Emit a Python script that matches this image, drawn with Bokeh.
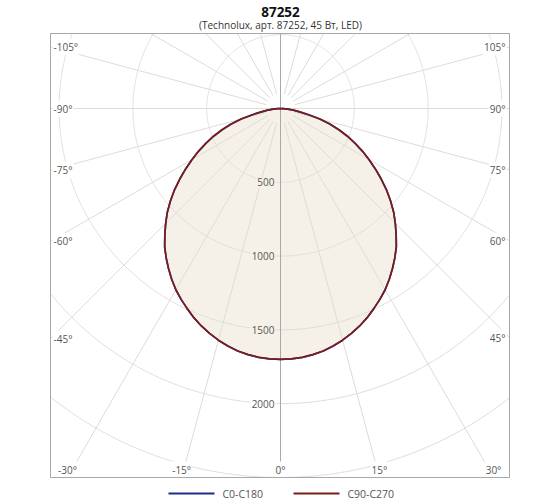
import numpy as np
from bokeh.plotting import figure
from bokeh.models import Range1d
from bokeh.core.properties import value
from bokeh.embed import file_html
from bokeh.resources import INLINE

# ---------------- data ----------------
TITLE = "87252"
SUBTITLE = "(Technolux, арт. 87252, 45 Вт, LED)"
SERIES = ["C0-C180", "C90-C270"]
ANGLES = [0, 2.5, 5, 7.5, 10, 12.5, 15, 17.5, 20, 22.5, 25, 27.5, 30, 32.5, 35, 37.5, 40, 42.5,
          45, 47.5, 50, 52.5, 55, 57.5, 60, 62.5, 65, 67.5, 70, 72.5, 75, 77.5, 80, 82.5, 85, 87.5, 90]
C0_C180 = [1700, 1698, 1693, 1682, 1668, 1648, 1625, 1598, 1568, 1534, 1496, 1458, 1418, 1372, 1323,
           1273, 1221, 1160, 1100, 1040, 973, 905, 833, 762, 692, 625, 558, 491, 421, 350, 276, 195,
           132, 88, 50, 20, 0]
C90_C270 = [1700, 1698, 1693, 1682, 1668, 1648, 1625, 1598, 1568, 1534, 1496, 1458, 1418, 1372, 1323,
            1273, 1221, 1160, 1100, 1040, 973, 905, 833, 762, 692, 625, 558, 491, 421, 350, 276, 195,
            132, 88, 50, 20, 0]
RADIAL_TICKS = [500, 1000, 1500, 2000]
GRID_RADII = [500, 1000, 1500, 2000, 2500, 3000]
RAY_STEP = 15
ANGLE_TICKS = [-105, -90, -75, -60, -45, -30, -15, 0, 15, 30, 45, 60, 75, 90, 105]

# ---------------- layout ----------------
S = 0.1476            # px per cd
W, H = 560, 504
CX, CY = 280, 108     # pole position inside the canvas (px from left / top)
FONT = value("Open Sans")
FILL = "#F5F1E8"
GRID = "#DCDCDC"
TXT = "#555555"
COLORS = ["#1F2A8A", "#7A1C1C"]


def P(xp, yp):
    """picture pixel -> data coordinates"""
    return (xp - CX) / S, (CY - yp) / S


p = figure(width=W, height=H,
           x_range=Range1d(-CX / S, (W - CX) / S),
           y_range=Range1d(-(H - CY) / S, CY / S),
           x_axis_type=None, y_axis_type=None,
           output_backend="svg", toolbar_location=None, min_border=0)
p.outline_line_color = None
p.background_fill_color = "white"
p.border_fill_color = "white"

X0, Y1 = P(50, 33)
X1, Y0 = P(509, 477)


def polar(angles_deg, vals):
    a = np.radians(np.asarray(angles_deg, dtype=float))
    v = np.asarray(vals, dtype=float)
    return v * np.sin(a), -v * np.cos(a)


def full(vals):
    ang = [-a for a in ANGLES[::-1][:-1]] + ANGLES
    vv = list(vals[::-1][:-1]) + list(vals)
    return polar(ang, vv)


# fill of the curve
fx, fy = full(C90_C270)
p.patch(fx, fy, fill_color=FILL, line_color=None)

# circles
t = np.arange(0, 360.001, 0.25)
for r in GRID_RADII:
    cx, cy = polar(t, np.full_like(t, r))
    m = (cx < X0) | (cx > X1) | (cy < Y0) | (cy > Y1)
    cx[m] = np.nan
    cy[m] = np.nan
    p.line(cx, cy, line_color=GRID, line_width=1)

# rays
r0 = 100
xs0, ys0, xs1, ys1 = [], [], [], []
for a in range(-180, 180, RAY_STEP):
    if a % 90 == 0:
        continue
    sx, sy = np.sin(np.radians(a)), -np.cos(np.radians(a))
    c = []
    if sx > 1e-9: c.append(X1 / sx)
    if sx < -1e-9: c.append(X0 / sx)
    if sy > 1e-9: c.append(Y1 / sy)
    if sy < -1e-9: c.append(Y0 / sy)
    tm = min(c)
    xs0.append(r0 * sx); ys0.append(r0 * sy)
    xs1.append(tm * sx); ys1.append(tm * sy)
p.segment(xs0, ys0, xs1, ys1, line_color=GRID, line_width=1)
p.segment([X0], [0], [X1], [0], line_color=GRID, line_width=1)
p.segment([0], [Y0], [0], [Y1], line_color="#A8A8A8", line_width=1)

# angle labels
lx, ly, lt, la = [], [], [], []
for a in ANGLE_TICKS:
    sx, sy = np.sin(np.radians(a)), -np.cos(np.radians(a))
    c = []
    if sx > 1e-9: c.append((X1 / sx, "r"))
    if sx < -1e-9: c.append((X0 / sx, "l"))
    if sy < -1e-9: c.append((Y0 / sy, "b"))
    tm, side = min(c)
    xi, yi = tm * sx, tm * sy
    if side == "l":
        lx.append(X0 + 2 / S); ly.append(yi); la.append("left")
    elif side == "r":
        lx.append(X1 - 3 / S); ly.append(yi); la.append("right")
    else:
        lx.append(xi); ly.append(Y0 + 8 / S); la.append("center")
    lt.append(f"{a}°")
p.text(x=lx, y=ly, text=lt, text_align=la, text_baseline="middle",
       text_font=FONT, text_font_size="10px", text_color=TXT,
       background_fill_color="white", padding=1)

# radial labels
bg = [FILL if v < max(C90_C270) else "white" for v in RADIAL_TICKS]
p.text(x=[-5 / S] * len(RADIAL_TICKS), y=[-v for v in RADIAL_TICKS],
       text=[str(v) for v in RADIAL_TICKS], text_align="right", text_baseline="middle",
       text_font=FONT, text_font_size="10px", text_color=TXT,
       background_fill_color=bg, padding=1)

# curves
for vals, col in zip([C0_C180, C90_C270], COLORS):
    cx, cy = full(vals)
    p.line(cx, cy, line_color=col, line_width=1.7)

# frame
p.quad(left=[X0], right=[X1], bottom=[Y0], top=[Y1], fill_color=None,
       line_color="#A8A8A8", line_width=1)

# titles
tx, ty = P(280, 11)
p.text(x=[tx], y=[ty], text=[TITLE], text_align="center", text_baseline="middle",
       text_font=FONT, text_font_size="13.5px", text_font_style="bold", text_color="#111111")
sx_, sy_ = P(280, 24)
p.text(x=[sx_], y=[sy_], text=[SUBTITLE], text_align="center", text_baseline="middle",
       text_font=FONT, text_font_size="10px", text_color="#333333")

# legend
for name, col, xl in zip(SERIES, COLORS, [168, 293]):
    a0, b0 = P(xl, 493)
    a1, _ = P(xl + 46, 493)
    p.segment([a0], [b0], [a1], [b0], line_color=col, line_width=2)
    a2, _ = P(xl + 54, 493)
    p.text(x=[a2], y=[b0], text=[name], text_align="left", text_baseline="middle",
           text_font=FONT, text_font_size="10.5px", text_color=TXT)

open("out.html", "w").write(file_html(p, INLINE))
